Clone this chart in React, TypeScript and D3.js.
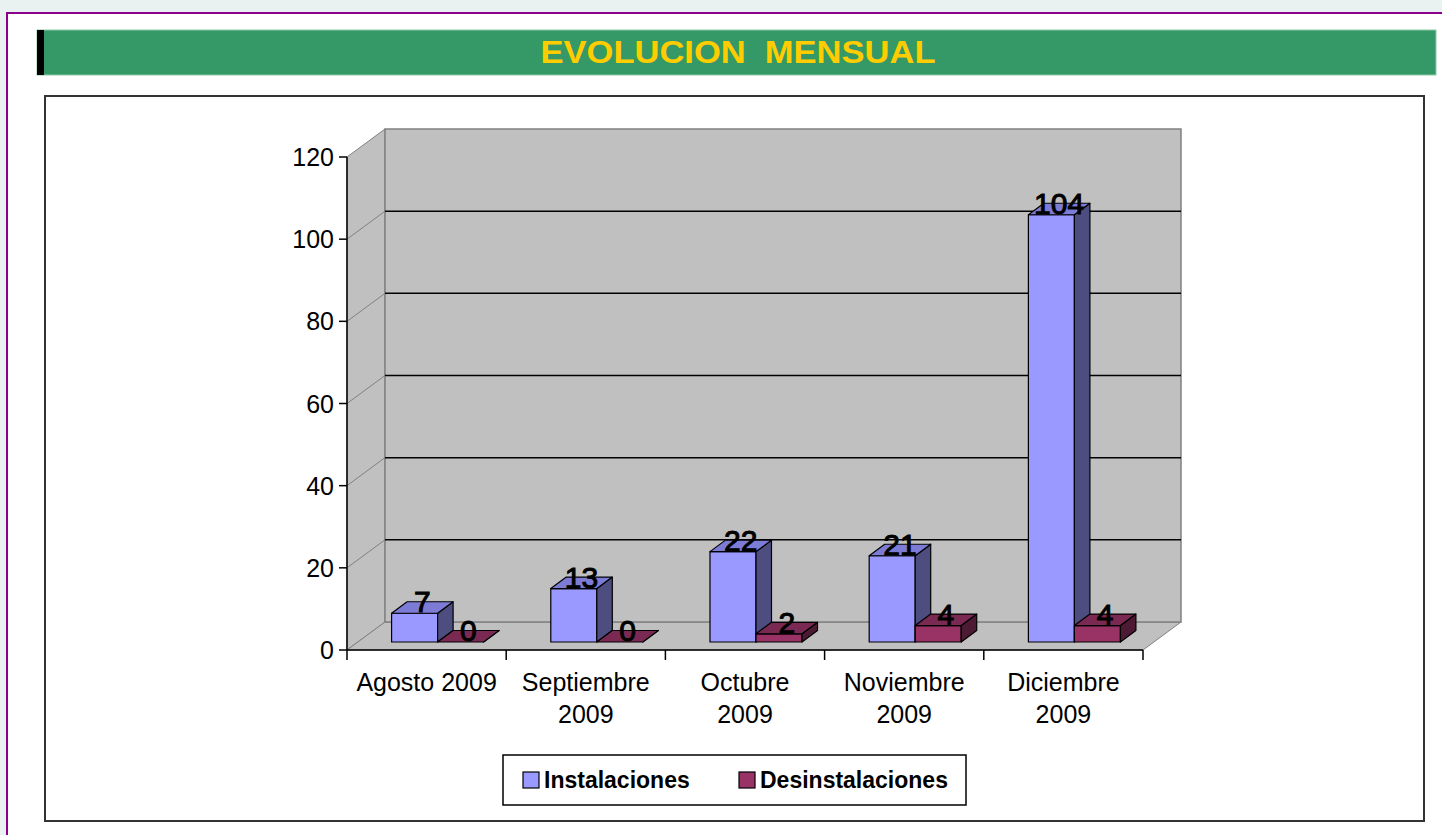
import React from "react";
import * as d3 from "d3";

const categories = ["Agosto 2009", "Septiembre 2009", "Octubre 2009", "Noviembre 2009", "Diciembre 2009"];
const seriesNames = ["Instalaciones", "Desinstalaciones"];
const instalaciones = [7, 13, 22, 21, 104];
const desinstalaciones = [0, 0, 2, 4, 4];
const yTicks = [0, 20, 40, 60, 80, 100, 120];
const title = "EVOLUCION  MENSUAL";

const FONT = "'Liberation Sans', Arial, Helvetica, sans-serif";

const palette = [
  { front: "#9999ff", top: "#7c7cd6", side: "#4d4d80" },
  { front: "#993366", top: "#7a2952", side: "#4d1a33" },
];

function wrapLabel(text: string, maxW: number, font: string): string[] {
  let ctx: CanvasRenderingContext2D | null = null;
  try {
    ctx = document.createElement("canvas").getContext("2d");
  } catch (e) {
    ctx = null;
  }
  const measure = (s: string) => {
    if (ctx) {
      ctx.font = font;
      return ctx.measureText(s).width;
    }
    return s.length * 13;
  };
  const words = text.split(" ");
  const lines: string[] = [];
  let cur = "";
  for (const w of words) {
    const t = cur ? cur + " " + w : w;
    if (cur && measure(t) > maxW) {
      lines.push(cur);
      cur = w;
    } else cur = t;
  }
  if (cur) lines.push(cur);
  return lines;
}

export default function App() {
  const W = 1442;
  const H = 835;

  const x0 = 347;
  const x1 = 1143;
  const depthX = 38;
  const depthY = -28;
  const y = d3.scaleLinear().domain([0, 120]).range([650, 157]);

  const xCat = d3.scaleBand<string>().domain(categories).range([x0, x1]).paddingInner(0).paddingOuter(0);
  const xSer = d3.scaleBand<string>().domain(seriesNames).range([0, xCat.bandwidth()]).paddingInner(0).paddingOuter(0.73);

  const fdx = 11, fdy = -8;
  const bdx = 15.5, bdy = -11.5;

  const data = [instalaciones, desinstalaciones];

  const backY = (v: number) => y(v) + depthY;
  const bx0 = x0 + depthX;
  const bx1 = x1 + depthX;

  const gray = "#c0c0c0";
  const edge = "#808080";

  const bars: React.ReactNode[] = [];
  const labels: React.ReactNode[] = [];
  categories.forEach((c, ci) => {
    seriesNames.forEach((s, si) => {
      const v = data[si][ci];
      const l = (xCat(c) as number) + (xSer(s) as number) + fdx;
      const r = l + xSer.bandwidth();
      const yb = y(0) + fdy;
      const yt = y(v) + fdy;
      const col = palette[si];
      bars.push(
        <g key={`b${ci}-${si}`} stroke="#000" strokeWidth={1.2} strokeLinejoin="round">
          <rect x={l} y={yt} width={r - l} height={yb - yt} fill={col.front} />
          <polygon
            points={`${r},${yt} ${r + bdx},${yt + bdy} ${r + bdx},${yb + bdy} ${r},${yb}`}
            fill={col.side}
          />
          <polygon
            points={`${l},${yt} ${r},${yt} ${r + bdx},${yt + bdy} ${l + bdx},${yt + bdy}`}
            fill={col.top}
          />
        </g>
      );
      labels.push(
        <text
          key={`l${ci}-${si}`}
          x={(l + r) / 2 + bdx / 2}
          y={yt - 1}
          textAnchor="middle"
          fontFamily={FONT}
          fontSize={30}
          fill="#000"
          stroke="#000"
          strokeWidth={1}
        >
          {v}
        </text>
      );
    });
  });

  const catFont = `25px ${"Liberation Sans"}`;

  return (
    <svg
      width={W}
      height={H}
      style={{ position: "absolute", left: 0, top: 0, display: "block" }}
      xmlns="http://www.w3.org/2000/svg"
    >
      <rect x={0} y={0} width={W} height={H} fill="#e9f2f1" />
      <rect x={7} y={13} width={W + 20} height={H + 20} fill="#ffffff" stroke="#8b008b" strokeWidth={2} />

      <rect x={37} y={30} width={1399} height={45} fill="#349966" stroke="#8fcaa8" strokeWidth={1} />
      <rect x={37} y={30} width={7} height={45} fill="#000" />
      <text
        x={738}
        y={63}
        textAnchor="middle"
        fontFamily={FONT}
        fontWeight="bold"
        fontSize={32}
        fill="#ffcc00"
        textLength={395}
        lengthAdjust="spacingAndGlyphs"
        style={{ whiteSpace: "pre" }}
      >
        {title}
      </text>

      <rect x={45} y={96} width={1379} height={725} fill="#fff" stroke="#333" strokeWidth={2} />

      <polygon
        points={`${x0},${y(120)} ${bx0},${backY(120)} ${bx0},${backY(0)} ${x0},${y(0)}`}
        fill={gray}
        stroke={edge}
        strokeWidth={1}
      />
      <polygon
        points={`${x0},${y(0)} ${bx0},${backY(0)} ${bx1},${backY(0)} ${x1},${y(0)}`}
        fill={gray}
        stroke={edge}
        strokeWidth={1}
      />
      <rect x={bx0} y={backY(120)} width={bx1 - bx0} height={backY(0) - backY(120)} fill={gray} stroke={edge} strokeWidth={1.5} />

      {yTicks.filter((t) => t > 0 && t < 120).map((t) => (
        <g key={`g${t}`}>
          <line x1={x0} y1={y(t)} x2={bx0} y2={backY(t)} stroke={edge} strokeWidth={1} />
          <line x1={bx0} y1={backY(t)} x2={bx1} y2={backY(t)} stroke="#000" strokeWidth={1.5} />
        </g>
      ))}

      {bars}
      {labels}

      <line x1={x0} y1={y(120)} x2={x0} y2={y(0)} stroke="#000" strokeWidth={1.5} />
      {yTicks.map((t) => (
        <g key={`yt${t}`}>
          <line x1={x0 - 8} y1={y(t)} x2={x0} y2={y(t)} stroke="#000" strokeWidth={1.5} />
          <text x={x0 - 13} y={y(t) + 9} textAnchor="end" fontFamily={FONT} fontSize={25} fill="#000">
            {t}
          </text>
        </g>
      ))}
      <line x1={x0} y1={y(0)} x2={x1} y2={y(0)} stroke="#000" strokeWidth={1.5} />
      {d3.range(categories.length + 1).map((i) => {
        const xx = x0 + i * xCat.step();
        return <line key={`xt${i}`} x1={xx} y1={y(0)} x2={xx} y2={y(0) + 10} stroke="#000" strokeWidth={1.5} />;
      })}
      {categories.map((c) => {
        const lines = wrapLabel(c, 150, catFont);
        const cx = (xCat(c) as number) + xCat.bandwidth() / 2;
        return (
          <text key={`c${c}`} textAnchor="middle" fontFamily={FONT} fontSize={25} fill="#000">
            {lines.map((ln, i) => (
              <tspan key={i} x={cx} y={691 + i * 32}>
                {ln}
              </tspan>
            ))}
          </text>
        );
      })}

      <rect x={503} y={755} width={463} height={50} fill="#fff" stroke="#000" strokeWidth={1.5} />
      {seriesNames.map((s, i) => {
        const lx = i === 0 ? 523 : 739;
        return (
          <g key={`lg${s}`}>
            <rect x={lx} y={772} width={16} height={16} fill={palette[i].front} stroke="#000" strokeWidth={1.2} />
            <text x={lx + 21} y={788} fontFamily={FONT} fontWeight="bold" fontSize={23} fill="#000">
              {s}
            </text>
          </g>
        );
      })}
    </svg>
  );
}
